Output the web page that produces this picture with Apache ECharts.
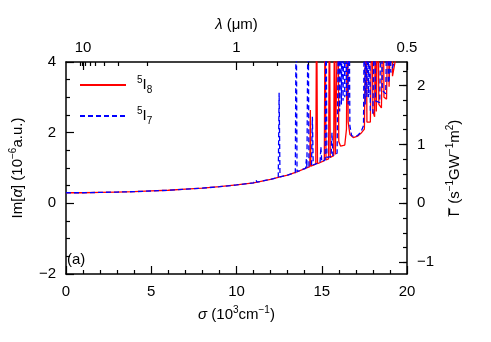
<!DOCTYPE html>
<html>
<head>
<meta charset="utf-8">
<script src="https://cdn.jsdelivr.net/npm/echarts@6/dist/echarts.min.js"></script>
<style>
  html, body { margin: 0; padding: 0; background: #fff; }
  #chart { width: 491px; height: 342px; }
</style>
</head>
<body>
<div id="chart"></div>
<script>
// sigma (10^3 cm^-1) vs Im[alpha] (10^-6 a.u.)
const series5I8 = [
  [0, 0.30], [1, 0.30], [2, 0.31], [3, 0.32], [4, 0.33], [5, 0.35], [6, 0.37], [7, 0.40],
  [8, 0.43], [9, 0.47], [10, 0.52], [11, 0.58], [12, 0.68], [12.5, 0.74], [13, 0.80],
  [13.5, 0.88], [14, 0.98], [14.3, 1.04], [14.33, 2.64], [14.36, 1.05],
  [14.65, 1.11], [14.7, 6], [14.75, 1.12], [15.15, 1.21], [15.2, 6], [15.25, 1.23],
  [15.4, 1.26], [15.45, 6], [15.5, 1.30], [15.7, 1.35], [15.75, 6], [15.8, 1.38],
  [15.95, 6], [16.0, 1.75], [16.1, 1.62], [16.2, 1.58], [16.35, 1.65], [16.45, 2.1],
  [16.5, 6], [16.55, 2.3], [16.65, 1.95], [16.85, 1.86], [17.1, 1.9], [17.3, 1.98],
  [17.5, 2.1], [17.6, 6], [17.65, 2.3], [17.85, 2.3], [17.95, 6], [18.0, 2.6],
  [18.1, 2.45], [18.15, 6], [18.2, 2.6], [18.27, 2.6], [18.3, 6], [18.35, 2.8],
  [18.5, 2.7], [18.6, 6], [18.65, 3.0], [18.8, 2.95], [18.9, 6], [18.95, 3.3],
  [19.05, 3.3], [19.1, 6], [19.15, 3.6], [19.3, 4.0], [19.5, 4.6], [20, 5.5]
]
const series5I7 = [
  [0, 0.30], [1, 0.30], [2, 0.31], [3, 0.32], [4, 0.33], [5, 0.35], [6, 0.37], [7, 0.40],
  [8, 0.43], [9, 0.47], [10, 0.52], [11, 0.58], [11.15, 0.66], [11.2, 0.60], [12, 0.68],
  [12.45, 0.73], [12.5, 3.13], [12.55, 0.75], [13, 0.80], [13.45, 0.87], [13.5, 6], [13.55, 0.90],
  [14.05, 0.99], [14.1, 1.25], [14.13, 1.0], [14.15, 1.0], [14.2, 6], [14.25, 1.05],
  [14.4, 1.06], [14.45, 2.45], [14.5, 1.09], [14.9, 1.16], [14.95, 1.6], [15.0, 1.18],
  [15.2, 1.23], [15.25, 6], [15.3, 1.3], [15.55, 1.32], [15.6, 2.0], [15.65, 1.35],
  [15.9, 1.42], [16.0, 6], [16.05, 2.6], [16.1, 6], [16.15, 2.8], [16.2, 6], [16.25, 2.9],
  [16.3, 6], [16.35, 3.0], [16.4, 6], [16.45, 3.0], [16.5, 6], [16.55, 2.8], [16.6, 6],
  [16.65, 2.2], [16.75, 1.92], [16.9, 1.88], [17.1, 1.92], [17.3, 2.02], [17.45, 2.2],
  [17.5, 6], [17.55, 2.8], [17.6, 6], [17.65, 3.0], [17.7, 6], [17.75, 3.0], [17.8, 6],
  [17.85, 2.6], [18.0, 2.55], [18.1, 6], [18.15, 2.9], [18.4, 2.85], [18.5, 6], [18.55, 3.2],
  [18.75, 3.1], [18.85, 6], [18.9, 3.4], [18.95, 3.5], [19.0, 6], [19.05, 3.7],
  [19.25, 4.0], [19.5, 4.6], [20, 5.5]
]

// top axis: wavelength in um, placed at sigma = 10 / lambda
const lambdaMajor = [10, 1, 0.5]
const lambdaMinor = [9, 8, 7, 6, 5, 4, 3, 2, 0.9, 0.8, 0.7, 0.6]
// right axis: Gamma-bar ticks
const gammaMajor = [-1, 0, 1, 2]
const gammaMinor = [-1, -0.75, -0.5, -0.25, 0, 0.25, 0.5, 0.75, 1, 1.25, 1.5, 1.75, 2, 2.25]

const FONT = 'Liberation Sans'
const minus = v => (v < 0 ? '\u2212' + (-v) : String(v))
const supRich = {
  it: { fontStyle: 'italic', fontSize: 15, lineHeight: 20, fontFamily: FONT },
  // zero-width macron drawn over the following Gamma
  ov: { fontSize: 15, lineHeight: 20, fontFamily: FONT, width: 0.01, align: 'left' },
  sup: { fontSize: 10, lineHeight: 9, verticalAlign: 'top', fontFamily: FONT },
  sub: { fontSize: 10, lineHeight: 9, verticalAlign: 'bottom', fontFamily: FONT }
}
const nameStyle = { fontSize: 15, lineHeight: 20, color: '#000', fontFamily: FONT, rich: supRich }
const labelStyle = { fontSize: 15, color: '#000', fontFamily: FONT }
const lineBlack = { onZero: false, lineStyle: { color: '#000', width: 1.5 } }
const tickLine = { color: '#000', width: 1.2 }

const chart = echarts.init(document.getElementById('chart'))

const option = {
  animation: false,
  backgroundColor: '#fff',
  textStyle: { fontFamily: FONT },
  grid: [
    { left: 61, right: 84, top: 62, bottom: 68 },
    { left: 61, right: 84, top: 62, bottom: 68 }
  ],
  legend: {
    orient: 'vertical',
    left: 74,
    top: 70,
    itemWidth: 46,
    itemHeight: 14,
    itemGap: 11,
    data: ['5I8', '5I7'],
    itemStyle: { opacity: 0, borderWidth: 0 },
    formatter: name => '{sup|' + name[0] + '}I{sub|' + name[2] + '}',
    textStyle: { fontSize: 15, lineHeight: 20, color: '#000', fontFamily: FONT, padding: [0, 0, 0, 6], rich: supRich }
  },
  xAxis: [
    {
      type: 'value', gridIndex: 0, position: 'bottom', min: 0, max: 20, interval: 5,
      name: '{it|σ} (10{sup|3}cm{sup|−1})', nameLocation: 'middle', nameGap: 31,
      nameTextStyle: nameStyle,
      axisLine: lineBlack,
      axisTick: { inside: true, length: 8, lineStyle: tickLine },
      minorTick: { show: true, splitNumber: 5, length: 4, lineStyle: tickLine },
      axisLabel: Object.assign({ margin: 10 }, labelStyle),
      splitLine: { show: false }
    },
    {
      type: 'value', gridIndex: 0, position: 'top', min: 0, max: 20,
      name: '{it|λ} (μm)', nameLocation: 'middle', nameGap: 24,
      nameTextStyle: nameStyle,
      axisLine: lineBlack,
      axisTick: { inside: true, length: 8, customValues: lambdaMajor.map(l => 10 / l), lineStyle: tickLine },
      axisLabel: Object.assign({ margin: 7, customValues: lambdaMajor.map(l => 10 / l), formatter: v => String(+(10 / v).toFixed(2)) }, labelStyle),
      splitLine: { show: false }
    },
    {
      type: 'value', gridIndex: 1, position: 'top', min: 0, max: 20,
      axisLine: { show: false, onZero: false },
      axisTick: { inside: true, length: 4, customValues: lambdaMinor.map(l => 10 / l), lineStyle: tickLine },
      axisLabel: { show: false },
      splitLine: { show: false }
    }
  ],
  yAxis: [
    {
      type: 'value', gridIndex: 0, position: 'left', min: -2, max: 4, interval: 2,
      name: 'Im[{it|α}] (10{sup|−6}a.u.)', nameLocation: 'middle', nameGap: 35, nameRotate: 90,
      nameTextStyle: nameStyle,
      axisLine: lineBlack,
      axisTick: { inside: true, length: 8, lineStyle: tickLine },
      minorTick: { show: true, splitNumber: 4, length: 4, lineStyle: tickLine },
      axisLabel: Object.assign({ margin: 10, formatter: minus }, labelStyle),
      splitLine: { show: false }
    },
    {
      type: 'value', gridIndex: 0, position: 'right', min: -1.2, max: 2.4,
      name: '{ov|\u00af}Γ (s{sup|−1}GW{sup|−1}m{sup|2})', nameLocation: 'middle', nameGap: 38, nameRotate: 90,
      nameTextStyle: nameStyle,
      axisLine: lineBlack,
      axisTick: { inside: true, length: 8, customValues: gammaMajor, lineStyle: tickLine },
      axisLabel: Object.assign({ margin: 10, customValues: gammaMajor, formatter: minus }, labelStyle),
      splitLine: { show: false }
    },
    {
      type: 'value', gridIndex: 1, position: 'right', min: -1.2, max: 2.4,
      axisLine: { show: false, onZero: false },
      axisTick: { inside: true, length: 4, customValues: gammaMinor, lineStyle: tickLine },
      axisLabel: { show: false },
      splitLine: { show: false }
    }
  ],
  graphic: [
    { type: 'text', left: 67, top: 252, style: { text: '(a)', fontSize: 15, fill: '#000', fontFamily: FONT } }
  ],
  series: [
    {
      name: '5I8', type: 'line', xAxisIndex: 0, yAxisIndex: 0,
      data: series5I8, showSymbol: false, symbol: 'none', clip: true,
      lineStyle: { color: '#ff0000', width: 1.3 }, itemStyle: { color: '#ff0000' }
    },
    {
      name: '5I7', type: 'line', xAxisIndex: 0, yAxisIndex: 0,
      data: series5I7, showSymbol: false, symbol: 'none', clip: true,
      lineStyle: { color: '#0000ff', width: 1.3, type: [5, 3] }, itemStyle: { color: '#0000ff' }
    }
  ]
}

chart.setOption(option)
</script>
</body>
</html>
